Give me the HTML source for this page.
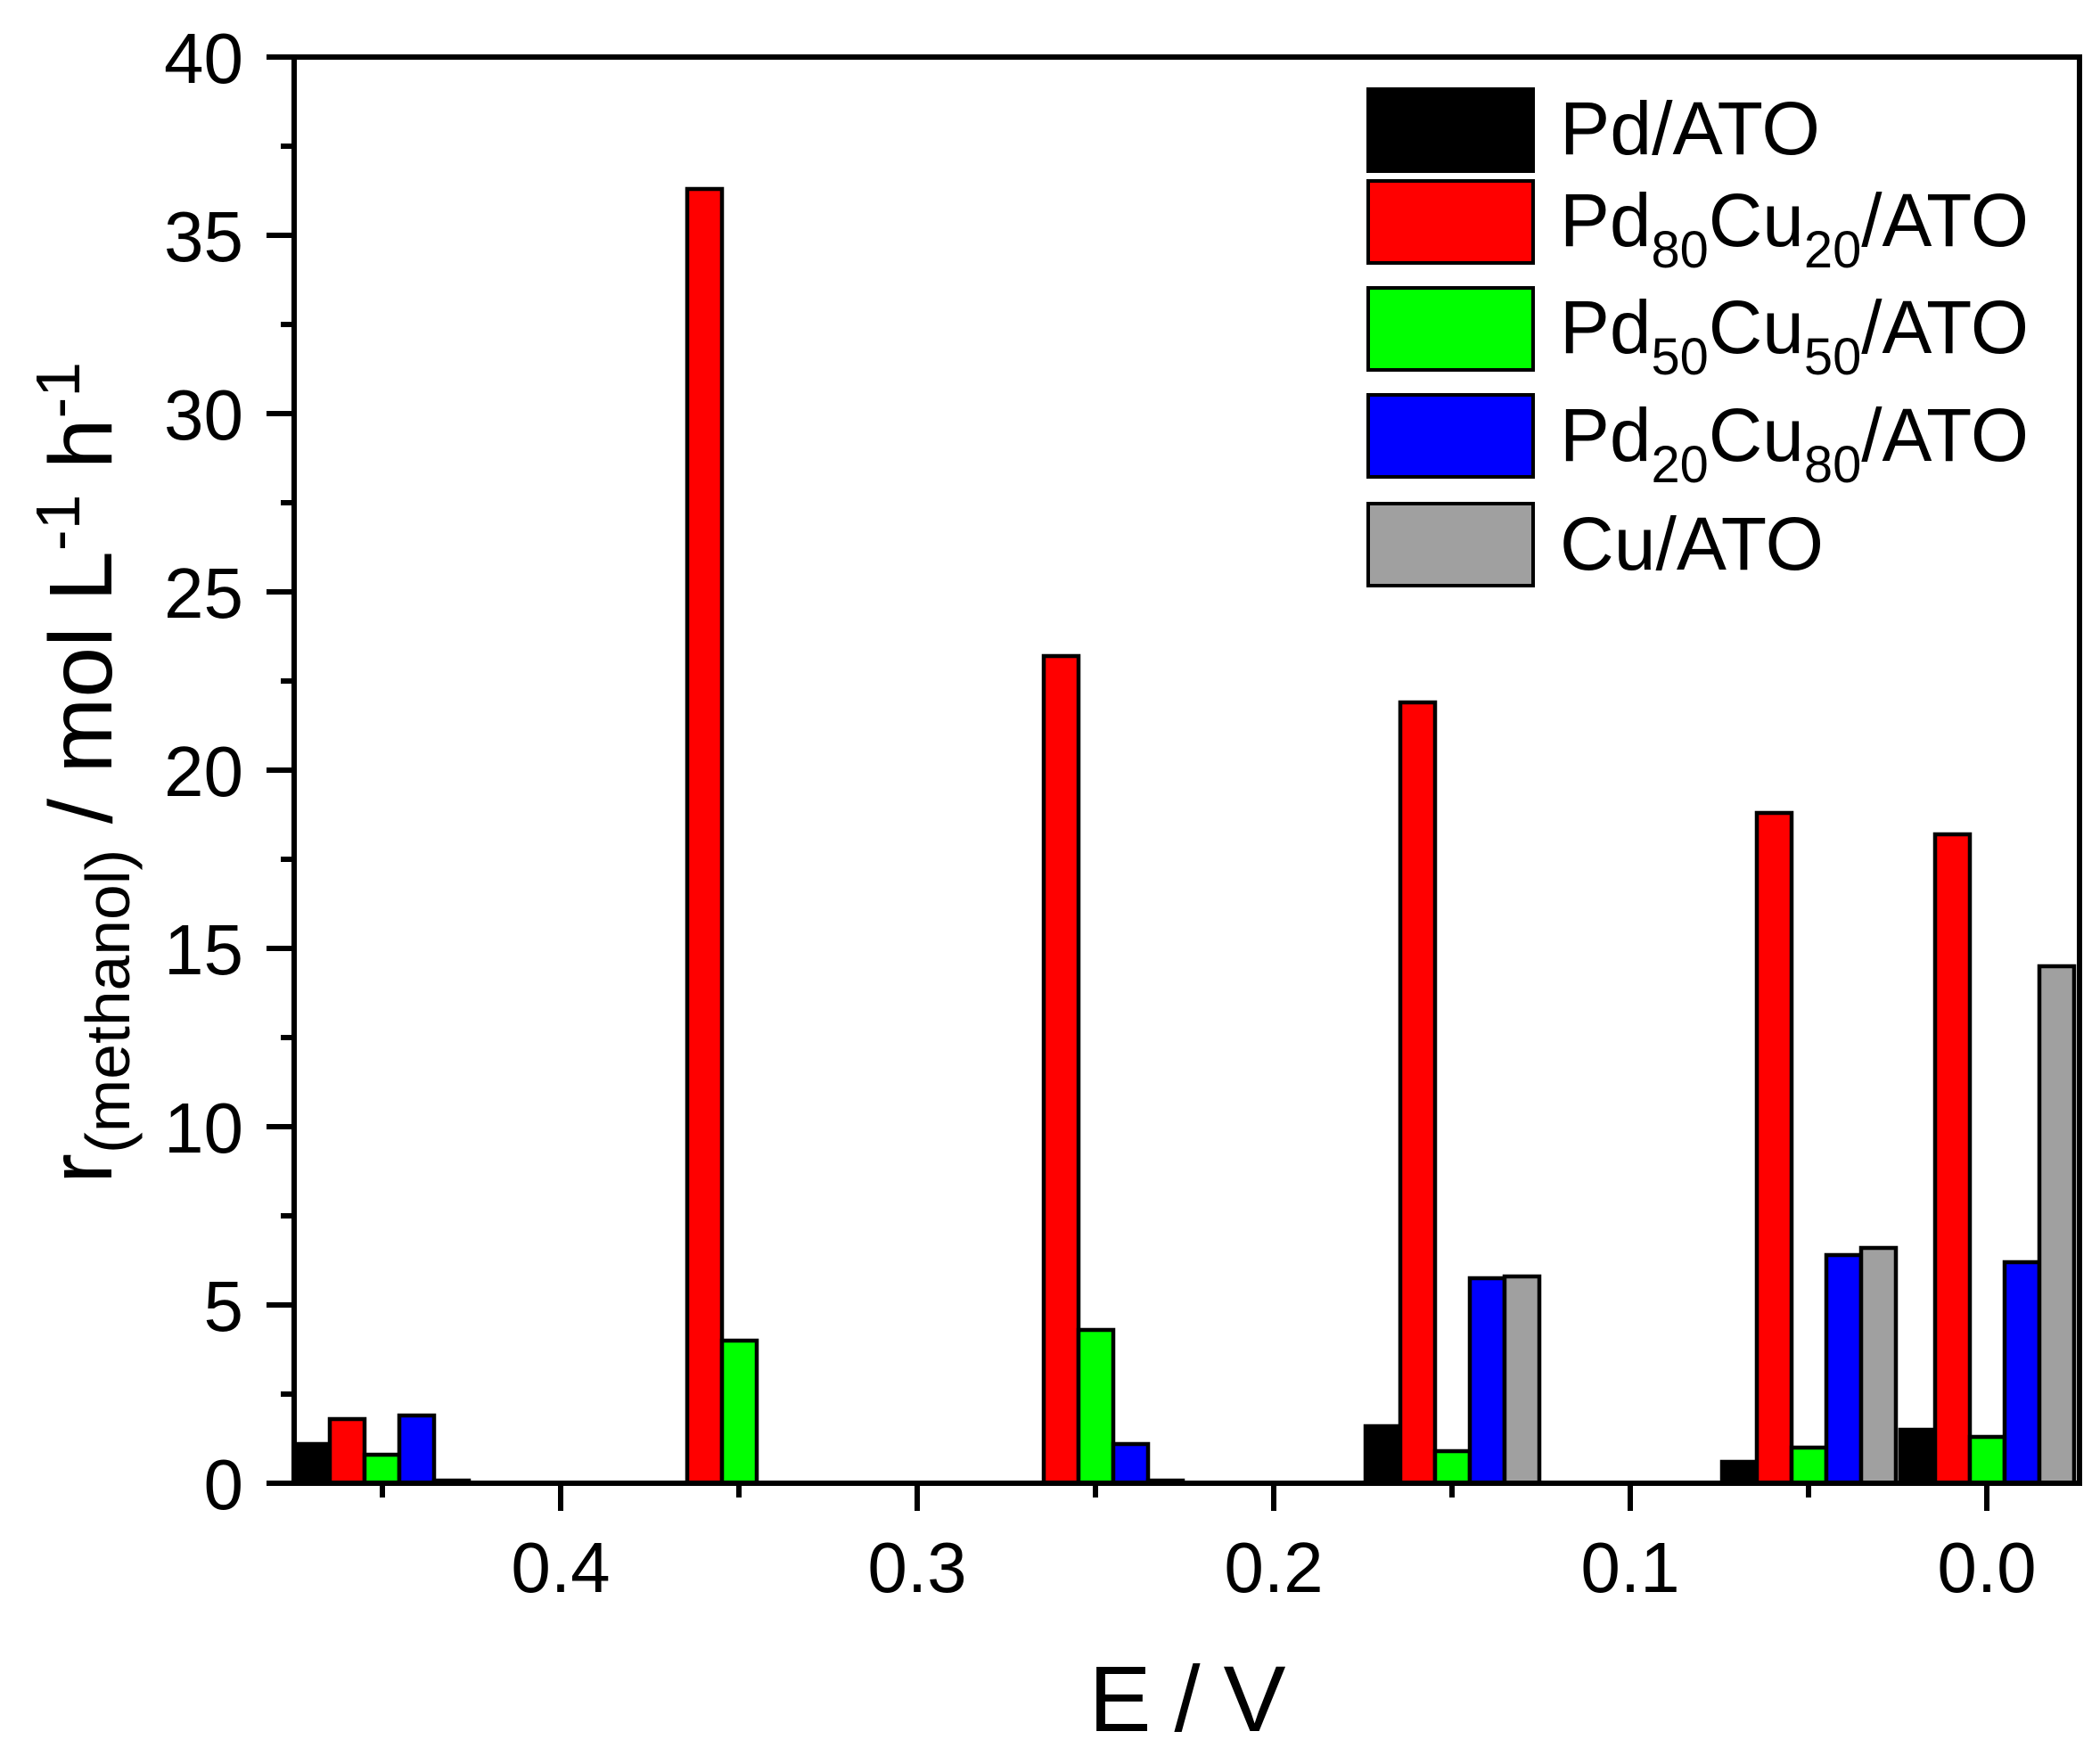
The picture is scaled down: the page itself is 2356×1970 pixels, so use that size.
<!DOCTYPE html>
<html><head><meta charset="utf-8"><style>html,body{margin:0;padding:0;background:#fff}svg{display:block}</style></head>
<body>
<svg width="2356" height="1970" viewBox="0 0 2356 1970" xmlns="http://www.w3.org/2000/svg" font-family="Liberation Sans, Arial, sans-serif">
<rect width="2356" height="1970" fill="#fff"/>
<g stroke="#000" stroke-width="4.5">
<rect x="331" y="1620" width="39" height="44" fill="#000"/>
<rect x="370" y="1592" width="39" height="72" fill="#f00"/>
<rect x="409" y="1632" width="39" height="32" fill="#0f0"/>
<rect x="448" y="1588" width="39" height="76" fill="#00f"/>
<rect x="487" y="1661" width="39" height="3" fill="#a0a0a0"/>
<rect x="771" y="212" width="39" height="1452" fill="#f00"/>
<rect x="810" y="1504" width="39" height="160" fill="#0f0"/>
<rect x="1171" y="736" width="39" height="928" fill="#f00"/>
<rect x="1210" y="1492" width="39" height="172" fill="#0f0"/>
<rect x="1249" y="1620" width="39" height="44" fill="#00f"/>
<rect x="1288" y="1661" width="39" height="3" fill="#a0a0a0"/>
<rect x="1532" y="1600" width="39" height="64" fill="#000"/>
<rect x="1571" y="788" width="39" height="876" fill="#f00"/>
<rect x="1610" y="1628" width="39" height="36" fill="#0f0"/>
<rect x="1649" y="1434" width="39" height="230" fill="#00f"/>
<rect x="1688" y="1432" width="39" height="232" fill="#a0a0a0"/>
<rect x="1932" y="1640" width="39" height="24" fill="#000"/>
<rect x="1971" y="912" width="39" height="752" fill="#f00"/>
<rect x="2010" y="1624" width="39" height="40" fill="#0f0"/>
<rect x="2049" y="1408" width="39" height="256" fill="#00f"/>
<rect x="2088" y="1400" width="39" height="264" fill="#a0a0a0"/>
<rect x="2132" y="1604" width="39" height="60" fill="#000"/>
<rect x="2171" y="936" width="39" height="728" fill="#f00"/>
<rect x="2210" y="1612" width="39" height="52" fill="#0f0"/>
<rect x="2249" y="1416" width="39" height="248" fill="#00f"/>
<rect x="2288" y="1084" width="39" height="580" fill="#a0a0a0"/>
</g>
<g stroke="#000" stroke-width="6" fill="none">
<rect x="330" y="64" width="2003" height="1600"/>
<path d="M299 64H330M299 264H330M299 464H330M299 664H330M299 864H330M299 1064H330M299 1264H330M299 1464H330M299 1664H330"/>
<path d="M315 164H330M315 364H330M315 564H330M315 764H330M315 964H330M315 1164H330M315 1364H330M315 1564H330"/>
<path d="M629 1664V1695M1029 1664V1695M1429 1664V1695M1829 1664V1695M2229 1664V1695"/>
<path d="M429 1664V1680M829 1664V1680M1229 1664V1680M1629 1664V1680M2029 1664V1680"/>
</g>
<g font-size="80" fill="#000" text-anchor="end">
<text x="273" y="93">40</text><text x="273" y="293">35</text><text x="273" y="493">30</text>
<text x="273" y="693">25</text><text x="273" y="893">20</text><text x="273" y="1093">15</text>
<text x="273" y="1293">10</text><text x="273" y="1493">5</text><text x="273" y="1693">0</text>
</g>
<g font-size="80" fill="#000" text-anchor="middle">
<text x="629" y="1786">0.4</text><text x="1029" y="1786">0.3</text><text x="1429" y="1786">0.2</text>
<text x="1829" y="1786">0.1</text><text x="2229" y="1786">0.0</text>
</g>
<text x="1332" y="1942" font-size="105" text-anchor="middle" textLength="221">E / V</text>
<text transform="translate(125,1328) rotate(-90)" font-size="100" textLength="922" lengthAdjust="spacingAndGlyphs">r<tspan font-size="70" dy="20">(methanol)</tspan><tspan dy="-20"> / mol L</tspan><tspan font-size="70" dy="-36">-1</tspan><tspan dy="36"> h</tspan><tspan font-size="70" dy="-36">-1</tspan></text>
<g stroke="#000" stroke-width="4">
<rect x="1535" y="100" width="185" height="92" fill="#000"/>
<rect x="1535" y="203" width="185" height="92" fill="#f00"/>
<rect x="1535" y="323" width="185" height="92" fill="#0f0"/>
<rect x="1535" y="443" width="185" height="92" fill="#00f"/>
<rect x="1535" y="565" width="185" height="92" fill="#a0a0a0"/>
</g>
<g font-size="84" fill="#000">
<text x="1750" y="173" textLength="292" lengthAdjust="spacingAndGlyphs">Pd/ATO</text>
<text x="1750" y="276" textLength="526" lengthAdjust="spacingAndGlyphs">Pd<tspan font-size="58" dy="24">80</tspan><tspan dy="-24">Cu</tspan><tspan font-size="58" dy="24">20</tspan><tspan dy="-24">/ATO</tspan></text>
<text x="1750" y="396" textLength="526" lengthAdjust="spacingAndGlyphs">Pd<tspan font-size="58" dy="24">50</tspan><tspan dy="-24">Cu</tspan><tspan font-size="58" dy="24">50</tspan><tspan dy="-24">/ATO</tspan></text>
<text x="1750" y="517" textLength="526" lengthAdjust="spacingAndGlyphs">Pd<tspan font-size="58" dy="24">20</tspan><tspan dy="-24">Cu</tspan><tspan font-size="58" dy="24">80</tspan><tspan dy="-24">/ATO</tspan></text>
<text x="1750" y="639" textLength="296" lengthAdjust="spacingAndGlyphs">Cu/ATO</text>
</g>
</svg>
</body></html>
